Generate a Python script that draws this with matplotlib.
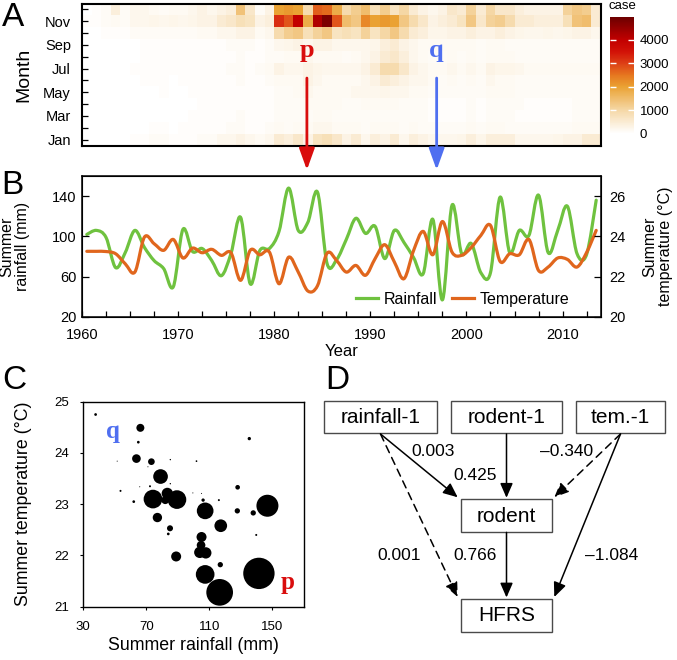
import numpy as np
import matplotlib
matplotlib.use("Agg")
import matplotlib.pyplot as plt
from matplotlib.colors import LinearSegmentedColormap, Normalize
from matplotlib.patches import PathPatch, Rectangle, ConnectionPatch, ArrowStyle
from matplotlib.path import Path
from matplotlib.lines import Line2D

plt.rcParams["font.family"] = ["Liberation Sans", "DejaVu Sans"]
SERIF = ["Liberation Serif", "DejaVu Serif"]

FIG_W, FIG_H = 677, 660

### DATA

# panel A: monthly HFRS cases, one value per year 1961-2014
YEARS = np.arange(1961, 2015)
MONTH_TICKS = ["Jan", "Mar", "May", "Jul", "Sep", "Nov"]

jan = [0, 0, 0, 0, 0, 50, 50, 100, 100, 50, 50, 50, 100, 100, 200, 200, 300, 200, 150, 200,
       500, 400, 600, 300, 700, 800, 600, 300, 500, 200, 400, 300, 500, 200, 400, 300, 200, 200,
       200, 250, 400, 250, 400, 400, 400, 200, 200, 200, 200, 250, 300, 300, 500, 500]
feb = [0, 0, 0, 0, 0, 0, 0, 50, 50, 0, 50, 50, 50, 50, 50, 100, 100, 50, 50, 100,
       150, 100, 150, 150, 200, 200, 150, 150, 150, 100, 150, 150, 150, 100, 150, 100, 100, 100,
       100, 100, 150, 100, 150, 150, 100, 100, 100, 100, 100, 100, 100, 150, 150, 150]
mar = [0, 0, 0, 0, 0, 0, 0, 0, 0, 0, 0, 50, 50, 50, 50, 50, 100, 50, 50, 50,
       100, 100, 100, 100, 150, 150, 100, 100, 100, 100, 100, 100, 100, 100, 100, 100, 50, 50,
       50, 50, 100, 50, 100, 100, 100, 50, 50, 50, 50, 50, 50, 100, 100, 100]
apr = [0, 0, 0, 0, 0, 0, 0, 0, 0, 0, 0, 0, 50, 50, 50, 50, 50, 50, 50, 50,
       100, 100, 100, 150, 150, 150, 150, 100, 100, 150, 150, 150, 150, 100, 100, 100, 50, 50,
       50, 50, 100, 50, 100, 100, 100, 100, 50, 50, 50, 50, 50, 100, 100, 100]
may = [0, 0, 0, 0, 0, 0, 0, 0, 50, 0, 0, 50, 50, 50, 50, 50, 50, 50, 50, 50,
       100, 100, 150, 200, 150, 150, 150, 150, 200, 200, 200, 250, 200, 200, 150, 150, 100, 100,
       100, 100, 100, 100, 150, 150, 150, 100, 100, 100, 100, 100, 100, 100, 100, 100]
jun = [0, 0, 0, 0, 0, 0, 50, 50, 50, 0, 50, 50, 50, 50, 50, 50, 100, 50, 50, 100,
       150, 150, 150, 300, 200, 150, 150, 150, 150, 200, 300, 500, 400, 300, 200, 200, 150, 100,
       150, 100, 150, 100, 200, 150, 150, 100, 100, 100, 100, 100, 100, 100, 100, 100]
jul = [0, 0, 0, 0, 0, 50, 50, 50, 50, 50, 50, 50, 50, 50, 50, 100, 100, 50, 100, 150,
       300, 200, 200, 300, 250, 200, 200, 200, 200, 300, 500, 900, 900, 600, 300, 200, 150, 150,
       200, 150, 200, 150, 300, 250, 250, 200, 150, 150, 150, 150, 150, 150, 150, 150]
aug = [0, 0, 0, 0, 0, 0, 50, 50, 50, 50, 50, 50, 50, 50, 50, 50, 100, 50, 50, 100,
       100, 150, 150, 200, 150, 150, 150, 100, 150, 200, 300, 500, 600, 400, 200, 150, 100, 100,
       150, 100, 150, 100, 150, 150, 150, 100, 100, 100, 100, 100, 100, 100, 100, 100]
sep = [0, 0, 0, 0, 0, 0, 50, 50, 50, 50, 50, 50, 50, 50, 50, 100, 100, 100, 50, 100,
       200, 250, 300, 200, 300, 300, 200, 200, 200, 200, 250, 400, 500, 300, 200, 150, 150, 150,
       150, 150, 150, 100, 150, 150, 100, 100, 100, 100, 100, 100, 100, 100, 100, 100]
oct_ = [0, 0, 50, 50, 50, 100, 100, 100, 100, 100, 100, 100, 150, 150, 200, 200, 300, 300, 150, 200,
        900, 1200, 1300, 800, 1100, 1300, 700, 800, 700, 1100, 700, 1000, 1300, 900, 500, 400, 250, 250,
        300, 300, 400, 300, 300, 400, 300, 250, 200, 200, 250, 200, 250, 300, 300, 200]
nov = [50, 50, 100, 150, 100, 200, 200, 250, 200, 250, 200, 250, 300, 300, 500, 600, 800, 700, 300, 400,
       3200, 2800, 4000, 1800, 4200, 4800, 2800, 1500, 1300, 2300, 2000, 2100, 2000, 1300, 900, 600, 300, 400,
       500, 700, 1300, 600, 1100, 1200, 900, 500, 500, 400, 400, 400, 800, 1400, 1500, 500]
dec = [0, 50, 100, 400, 100, 200, 200, 150, 100, 150, 150, 200, 300, 200, 300, 400, 1400, 600, 100, 300,
       2000, 2100, 2000, 900, 2700, 2600, 1800, 900, 1200, 1500, 800, 1200, 700, 1000, 500, 300, 200, 300,
       600, 500, 1100, 500, 1000, 600, 600, 400, 300, 300, 300, 300, 1100, 1300, 1200, 500]

# panel B: summer rainfall (mm) and summer temperature (C), 1961-2014
rainfall = [102, 106, 99, 69, 84, 106, 89, 76, 68, 50, 107, 85, 88, 76, 61, 83, 119, 53, 86, 88,
            105, 148, 106, 114, 144, 73, 77, 97, 118, 103, 110, 78, 106, 94, 79, 63, 117, 37, 131, 83,
            93, 64, 64, 139, 84, 106, 101, 141, 84, 106, 130, 83, 82, 136]
temperature = [23.26, 23.26, 23.25, 23.14, 22.64, 22.23, 23.97, 23.64, 23.31, 23.85,
               22.93, 23.42, 23.19, 23.36, 23.06, 23.19, 21.82, 23.31, 23.09, 23.22,
               21.65, 22.97, 22.23, 21.29, 21.55, 23.17, 22.80, 22.23, 22.56, 22.07,
               22.90, 23.59, 22.73, 21.90, 23.30, 24.25, 23.09, 24.74, 23.22, 23.06,
               23.45, 24.05, 24.55, 22.76, 23.14, 23.09, 23.85, 22.31, 22.48, 22.93,
               22.86, 22.48, 23.20, 24.30]

# panel C: one bubble per year, area ~ yearly cases
c_rainfall = [37.8, 66.2, 64.9, 63.7, 73.2, 85.2, 101.8, 51.5, 71.0, 79.0, 72.3, 85.2, 53.6, 65.8,
              74.2, 83.3, 82.0, 89.4, 99.5, 105.0, 106.0, 62.0, 116.0, 107.3, 127.9, 127.7, 135.3,
              137.8, 146.8, 77.0, 117.2, 85.0, 83.9, 105.0, 104.7, 103.9, 107.7, 88.9, 139.7, 116.9,
              107.3, 141.4, 116.5]
c_temperature = [24.75, 24.49, 24.21, 23.89, 23.83, 23.87, 23.84, 23.84, 23.73, 23.54, 23.35, 23.40,
                 23.26, 23.34, 23.10, 23.21, 23.08, 23.09, 23.22, 23.21, 23.08, 23.05, 23.08, 22.87,
                 23.33, 22.87, 24.28, 22.83, 22.97, 22.74, 22.58, 22.53, 22.42, 22.36, 22.20, 22.06,
                 22.05, 21.98, 22.40, 21.82, 21.63, 21.65, 21.28]
c_cases = [100, 860, 100, 1010, 600, 25, 40, 14, 14, 2900, 55, 25, 55, 14,
           4700, 1730, 860, 4700, 14, 14, 150, 100, 55, 3750, 290, 380, 150,
           380, 6530, 1180, 2170, 490, 100, 1350, 1010, 1730, 1730, 1350, 55, 380,
           4700, 13250, 9600]

# panel D: path model
D_SOURCES = ["rainfall-1", "rainfall-1", "rodent-1", "tem.-1", "tem.-1", "rodent"]
D_TARGETS = ["rodent", "HFRS", "rodent", "rodent", "HFRS", "HFRS"]
D_COEFS = [0.003, 0.001, 0.425, -0.340, -1.084, 0.766]
D_SIGNIFICANT = [True, False, True, False, True, True]

# marked years (p: cold and wet, q: hot and dry)
MARKS = [("p", 1983.4, "#d90d0d"), ("q", 1996.9, "#4f6ff0")]

### STYLE / LAYOUT

GREEN = "#6fc23f"
ORANGE = "#e0661d"
case_cmap = LinearSegmentedColormap.from_list(
    "case",
    [(0.0, "#ffffff"), (0.2, "#f5d7a5"), (0.4, "#eaa233"), (0.5, "#e6761f"),
     (0.6, "#dd3f16"), (0.7, "#d21207"), (0.8, "#c20000"), (1.0, "#6b0000")],
)

D_BOXES = {
    "rainfall-1": (324, 437, 401.3, 433.3),
    "rodent-1": (450.7, 562.3, 401.3, 433.3),
    "tem.-1": (576, 665, 401.3, 433.3),
    "rodent": (460.7, 552.3, 499.3, 531.7),
    "HFRS": (460.7, 552.3, 599, 631.7),
}
D_END_SIDE = ["left", "left", "center", "right", "right", "center"]
D_LABEL_XY = [(433, 451), (399, 555), (475, 476), (567, 451), (612, 555), (475, 555)]


def fx(px):
    return px / FIG_W


def fy(py):
    return 1 - py / FIG_H


def smooth_path(x, y):
    # excel-like smoothed line: catmull-rom segments as cubic beziers
    pts = np.column_stack([x, y]).astype(float)
    verts = [pts[0]]
    codes = [Path.MOVETO]
    n = len(pts)
    for i in range(n - 1):
        p0 = pts[i - 1] if i > 0 else pts[i]
        p1, p2 = pts[i], pts[i + 1]
        p3 = pts[i + 2] if i + 2 < n else pts[i + 1]
        verts += [p1 + (p2 - p0) / 6, p2 - (p3 - p1) / 6, p2]
        codes += [Path.CURVE4] * 3
    return Path(verts, codes)


fig = plt.figure(figsize=(FIG_W / 100, FIG_H / 100), dpi=100)

### A: heatmap
months = [jan, feb, mar, apr, may, jun, jul, aug, sep, oct_, nov, dec]
for m in months:
    assert len(m) == len(YEARS)
cases = np.array(months, dtype=float)

ax_a = fig.add_axes([fx(82), fy(145.5), (601 - 82) / FIG_W, 142 / FIG_H])
x_edges = np.append(YEARS - 1, YEARS[-1])
y_edges = np.arange(13) - 0.5
mesh = ax_a.pcolormesh(x_edges, y_edges, cases, cmap=case_cmap,
                       norm=Normalize(0, 5000), shading="flat")
ax_a.set_xlim(1960, 2014)
ax_a.set_ylim(-0.5, 11.5)
ax_a.set_xticks([])
ax_a.set_yticks(range(0, 12, 2))
ax_a.set_yticklabels(MONTH_TICKS)
ax_a.set_yticks(range(12), minor=True)
ax_a.tick_params(axis="y", which="both", direction="in", length=4, width=0.9,
                 labelsize=10.5, pad=8)
for sp in ax_a.spines.values():
    sp.set_linewidth(1.5)
ax_a.set_ylabel("Month", fontsize=14)
ax_a.yaxis.set_label_coords(-0.095, 0.5)

cax = fig.add_axes([fx(610), fy(133.5), 24 / FIG_W, 117 / FIG_H])
cb = fig.colorbar(mesh, cax=cax, ticks=[0, 1000, 2000, 3000, 4000])
cb.outline.set_visible(False)
cax.tick_params(direction="in", color="white", labelcolor="black", length=4,
                width=1, labelsize=9.5, left=True, right=True, pad=4)
fig.text(fx(622), fy(6), "case", ha="center", va="center", fontsize=9.5)

### B: rainfall and temperature
ax_b = fig.add_axes([fx(82), fy(317), (601 - 82) / FIG_W, 141 / FIG_H])
ax_t = ax_b.twinx()
xs = YEARS - 0.5
ax_b.add_patch(PathPatch(smooth_path(xs, rainfall), fill=False, edgecolor=GREEN,
                         lw=2.3, capstyle="round", joinstyle="round"))
ax_t.add_patch(PathPatch(smooth_path(xs, temperature), fill=False, edgecolor=ORANGE,
                         lw=2.3, capstyle="round", joinstyle="round"))
ax_b.set_xlim(1960, 2014)
ax_b.set_ylim(20, 160)
ax_t.set_ylim(20, 27)
ax_b.set_xticks(range(1960, 2011, 10))
ax_b.set_xticks(np.arange(1960, 2014, 2.5), minor=True)
ax_b.set_yticks([20, 60, 100, 140])
ax_t.set_yticks([20, 22, 24, 26])
ax_b.tick_params(axis="x", which="both", direction="in", length=4.5, width=0.9,
                 labelsize=10.5, pad=8)
ax_b.tick_params(axis="y", direction="in", length=5, width=0.9, labelsize=10.5, pad=4)
ax_t.tick_params(axis="y", direction="in", length=5, width=0.9, labelsize=10.5, pad=6)
for sp in ax_t.spines.values():
    sp.set_linewidth(1.1)
ax_b.set_xlabel("Year", fontsize=12)
ax_b.xaxis.set_label_coords(0.5, -0.19)
ax_b.set_ylabel("Summer\nrainfall (mm)", fontsize=11.5, linespacing=1.1)
ax_b.yaxis.set_label_coords(-0.10, 0.5)
ax_t.set_ylabel("Summer\ntemperature (\u00b0C)", fontsize=11.5, linespacing=1.1)
ax_t.yaxis.set_label_coords(1.079, 0.5)
handles = [Line2D([], [], color=GREEN, lw=2.3), Line2D([], [], color=ORANGE, lw=2.3)]
ax_t.legend(handles, ["Rainfall", "Temperature"], loc="center right",
            bbox_to_anchor=(0.955, 0.125), ncol=2, frameon=False, fontsize=11.5,
            handlelength=1.4, handletextpad=0.35, columnspacing=0.9, borderpad=0)

# arrows from the heatmap down to the line chart
for name, xm, col in MARKS:
    ax_a.text(xm, 7.5, name, color=col, fontsize=19, fontweight="bold",
              family=SERIF, ha="center", va="center")
    arr = ConnectionPatch(xyA=(xm, 5.2), coordsA=ax_a.transData,
                          xyB=(xm, 1.043), coordsB=ax_b.get_xaxis_transform(),
                          arrowstyle=ArrowStyle("-|>", head_length=0.5, head_width=0.18),
                          mutation_scale=26, lw=2, color=col, shrinkA=0, shrinkB=0)
    fig.add_artist(arr)

### C: bubble chart
ax_c = fig.add_axes([fx(83.3), fy(606.7), 220.7 / FIG_W, 205 / FIG_H])
ax_c.scatter(c_rainfall, c_temperature, s=np.array(c_cases) / 26, color="black",
             edgecolors="none")
ax_c.set_xlim(30, 170)
ax_c.set_ylim(21, 25)
ax_c.set_xticks([30, 70, 110, 150])
ax_c.set_yticks([21, 22, 23, 24, 25])
ax_c.tick_params(direction="out", length=2.5, width=0.8, labelsize=9.5, pad=8)
for sp in ax_c.spines.values():
    sp.set_linewidth(1.0)
ax_c.set_xlabel("Summer rainfall (mm)", fontsize=12.8)
ax_c.xaxis.set_label_coords(0.5, -0.15)
ax_c.set_ylabel("Summer temperature (\u00b0C)", fontsize=12.8)
ax_c.yaxis.set_label_coords(-0.234, 0.5)
ax_c.text(49, 24.41, "q", color=MARKS[1][2], fontsize=18, fontweight="bold",
          family=SERIF, ha="center", va="center")
ax_c.text(159.5, 21.47, "p", color=MARKS[0][2], fontsize=18, fontweight="bold",
          family=SERIF, ha="center", va="center")

### D: path diagram
ax_d = fig.add_axes([fx(318), 0, (FIG_W - 318) / FIG_W, 300 / FIG_H])
ax_d.set_xlim(318, FIG_W)
ax_d.set_ylim(FIG_H, 360)
ax_d.axis("off")
for name, (x0, x1, y0, y1) in D_BOXES.items():
    ax_d.add_patch(Rectangle((x0, y0), x1 - x0, y1 - y0, facecolor="white",
                             edgecolor="#4a4a4a", lw=1.0, zorder=3))
    ax_d.text((x0 + x1) / 2, (y0 + y1) / 2 + 0.5, name, ha="center", va="center",
              fontsize=15, zorder=4)

for src, dst, coef, solid, side, lxy in zip(D_SOURCES, D_TARGETS, D_COEFS,
                                            D_SIGNIFICANT, D_END_SIDE, D_LABEL_XY):
    sx0, sx1, sy0, sy1 = D_BOXES[src]
    tx0, tx1, ty0, ty1 = D_BOXES[dst]
    start = ((sx0 + sx1) / 2, sy1 + 0.7)
    if side == "left":
        end = (tx0 - 3, ty0 - 2)
    elif side == "right":
        end = (tx1 + 2, ty0 - 2)
    else:
        end = ((tx0 + tx1) / 2, ty0 - 1.5)
    ax_d.annotate("", xy=end, xytext=start,
                  arrowprops=dict(arrowstyle=ArrowStyle("-|>", head_length=0.55, head_width=0.24),
                                  mutation_scale=16, lw=1.1, color="black",
                                  linestyle="-" if solid else (0, (5, 3.5)),
                                  shrinkA=0, shrinkB=0))
    ax_d.text(lxy[0], lxy[1], f"{coef:.3f}".replace("-", "\u2013"), ha="center",
              va="center", fontsize=12.5)

### panel letters
for letter, (px, py) in zip("ABCD", [(13, 18), (12, 186), (14, 380), (337, 380)]):
    fig.text(fx(px), fy(py), letter, fontsize=24, ha="center", va="center")

fig.savefig("out.png", dpi=100)
